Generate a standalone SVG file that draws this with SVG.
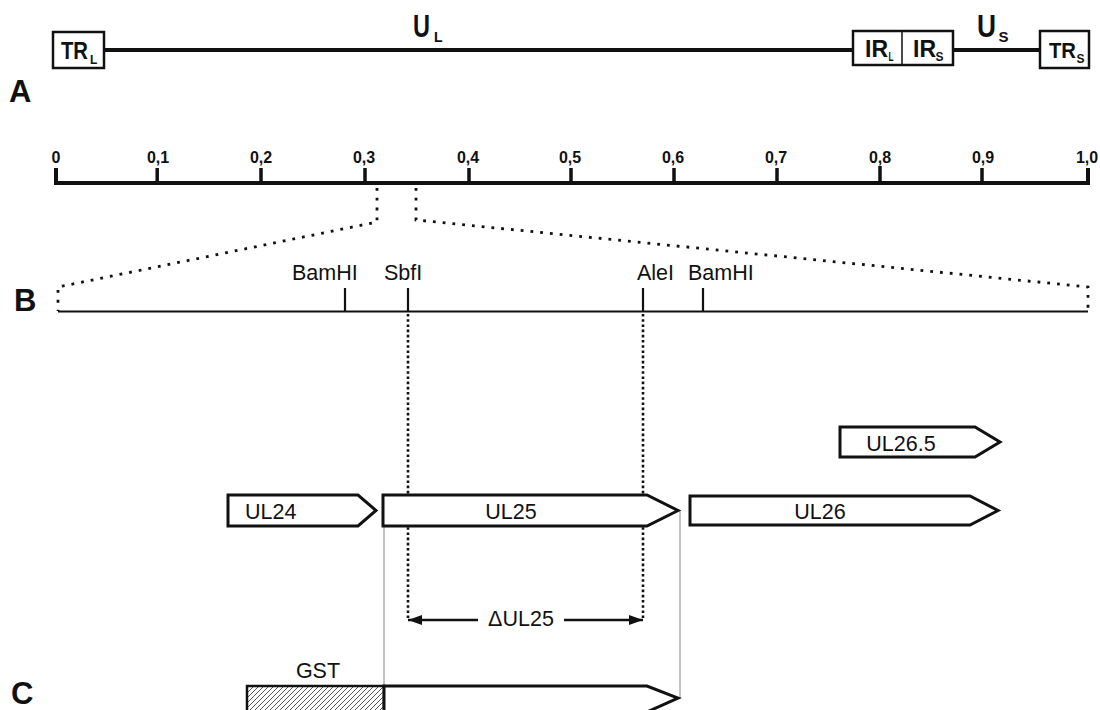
<svg xmlns="http://www.w3.org/2000/svg" width="1100" height="710" viewBox="0 0 1100 710">
<defs>
<style>
.lbl{font-family:"Liberation Sans",Arial,sans-serif;font-weight:bold;fill:#111}
.sec{font-family:"Liberation Sans",Arial,sans-serif;font-weight:bold;font-size:31px;fill:#111}
.txt{font-family:"Liberation Sans",Arial,sans-serif;font-size:21.5px;fill:#111}
.tick{font-family:"Liberation Sans",Arial,sans-serif;font-weight:bold;font-size:16px;fill:#111;text-anchor:middle}
.box{fill:#fff;stroke:#111;stroke-width:2.5}
.gene{fill:#fff;stroke:#111;stroke-width:3;stroke-linejoin:miter}
.thick{stroke:#111;stroke-width:4;fill:none}
.dots{stroke:#111;stroke-width:2.8;fill:none;stroke-dasharray:2.8 7}
.dense{stroke:#111;stroke-width:2.6;fill:none;stroke-dasharray:2.6 2.6}
.thin{stroke:#888;stroke-width:1;fill:none}
</style>
<pattern id="hatch" patternUnits="userSpaceOnUse" width="5" height="5">
<path d="M0,5 L5,0 M-1,1 L1,-1 M4,6 L6,4" stroke="#444" stroke-width="0.9"/>
</pattern>
<marker id="ah" viewBox="0 0 14 10" refX="14" refY="5" markerWidth="14" markerHeight="10" markerUnits="userSpaceOnUse" orient="auto-start-reverse">
<path d="M0,0 L14,5 L0,10 Z" fill="#111"/>
</marker>
</defs>
<rect width="1100" height="710" fill="#fff"/>

<!-- Section labels -->
<text class="sec" x="9" y="102">A</text>
<text class="sec" x="14" y="311">B</text>
<text class="sec" x="11" y="704">C</text>

<!-- Genome map A -->
<g id="genome">
<line class="thick" x1="104" y1="50" x2="853" y2="50"/>
<line class="thick" x1="953" y1="50" x2="1040" y2="50"/>
<text class="lbl" x="413" y="37" font-size="32" textLength="17" lengthAdjust="spacingAndGlyphs">U</text>
<text class="lbl" x="434" y="42" font-size="14">L</text>
<text class="lbl" x="977" y="37" font-size="32" textLength="19" lengthAdjust="spacingAndGlyphs">U</text>
<text class="lbl" x="998.5" y="42" font-size="15">S</text>
</g>
<g id="TRL">
<rect class="box" x="53" y="32" width="51" height="36"/>
<text class="lbl" x="61" y="59" font-size="23" textLength="27" lengthAdjust="spacingAndGlyphs">TR</text>
<text class="lbl" x="90" y="64" font-size="12">L</text>
</g>
<g id="IR">
<rect class="box" x="853" y="31" width="100" height="34"/>
<line x1="902" y1="31" x2="902" y2="65" stroke="#111" stroke-width="1.5"/>
<text class="lbl" x="865" y="57" font-size="23">IR</text>
<text class="lbl" x="888.5" y="61" font-size="12" textLength="5" lengthAdjust="spacingAndGlyphs">L</text>
<text class="lbl" x="913" y="57" font-size="23">IR</text>
<text class="lbl" x="935.5" y="61" font-size="12">S</text>
</g>
<g id="TRS">
<rect class="box" x="1040" y="31" width="49" height="37"/>
<text class="lbl" x="1049" y="58" font-size="22" textLength="27" lengthAdjust="spacingAndGlyphs">TR</text>
<text class="lbl" x="1076.5" y="63" font-size="12">S</text>
</g>

<!-- Scale -->
<g id="scale">
<path class="thick" d="M56,168 L56,183 L1088,183 L1088,168" stroke-width="3.5"/>
<g stroke="#111" stroke-width="3.5">
<line x1="157.2" y1="168" x2="157.2" y2="183"/>
<line x1="261" y1="168" x2="261" y2="183"/>
<line x1="365" y1="168" x2="365" y2="183"/>
<line x1="469" y1="168" x2="469" y2="183"/>
<line x1="571" y1="168" x2="571" y2="183"/>
<line x1="674" y1="168" x2="674" y2="183"/>
<line x1="777" y1="168" x2="777" y2="183"/>
<line x1="880" y1="166" x2="880" y2="183"/>
<line x1="982" y1="168" x2="982" y2="183"/>
</g>
<text class="tick" x="56" y="163">0</text>
<text class="tick" x="158" y="163">0,1</text>
<text class="tick" x="261" y="163">0,2</text>
<text class="tick" x="364" y="163">0,3</text>
<text class="tick" x="468" y="163">0,4</text>
<text class="tick" x="570" y="163">0,5</text>
<text class="tick" x="673" y="163">0,6</text>
<text class="tick" x="776" y="163">0,7</text>
<text class="tick" x="880" y="163">0,8</text>
<text class="tick" x="983" y="163">0,9</text>
<text class="tick" x="1087" y="163">1,0</text>
</g>

<!-- Region B -->
<g id="regionB">
<line x1="58" y1="311.5" x2="1088" y2="311.5" stroke="#111" stroke-width="2.2"/>
<g stroke="#111" stroke-width="2.2">
<line x1="345" y1="288" x2="345" y2="311"/>
<line x1="408" y1="288" x2="408" y2="311"/>
<line x1="643" y1="288" x2="643" y2="311"/>
<line x1="703" y1="288" x2="703" y2="311"/>
</g>
<text class="txt" x="292" y="280">BamHI</text>
<text class="txt" x="384" y="280">SbfI</text>
<text class="txt" x="637" y="280">AleI</text>
<text class="txt" x="688" y="280">BamHI</text>
</g>

<!-- Connectors -->
<g id="connectors">
<path class="dots" d="M377,188 L377,222 L58,287 L58,311"/>
<path class="dots" d="M416,188 L416,220 L1088,287 L1088,311"/>
<line class="dense" x1="408" y1="314" x2="408" y2="618"/>
<line class="dense" x1="643" y1="314" x2="643" y2="618"/>
<line class="thin" x1="384" y1="526" x2="384" y2="686"/>
<line class="thin" x1="680" y1="511" x2="680" y2="698"/>
</g>

<!-- Genes -->
<g id="UL26.5">
<polygon class="gene" points="840,427 975,427 1000,442 975,457 840,457"/>
<text class="txt" x="901" y="451" text-anchor="middle">UL26.5</text>
</g>
<g id="UL24">
<polygon class="gene" points="228,495 358,495 376,510.5 358,526 228,526"/>
<text class="txt" x="245" y="519">UL24</text>
</g>
<g id="UL25">
<polygon class="gene" points="383,495 647,495 678,510.5 647,526 383,526"/>
<text class="txt" x="511" y="519" text-anchor="middle">UL25</text>
</g>
<g id="UL26">
<polygon class="gene" points="690,496 970,496 998,510.5 970,525 690,525"/>
<text class="txt" x="820" y="519" text-anchor="middle">UL26</text>
</g>

<!-- Delta UL25 -->
<g id="deltaUL25">
<line x1="478" y1="620" x2="408" y2="620" stroke="#111" stroke-width="2.5" marker-end="url(#ah)"/>
<line x1="564" y1="620" x2="643" y2="620" stroke="#111" stroke-width="2.5" marker-end="url(#ah)"/>
<text class="txt" x="521" y="626" text-anchor="middle">ΔUL25</text>
</g>

<!-- Construct C -->
<g id="GST-UL25">
<rect x="247" y="686" width="137" height="30" fill="url(#hatch)" stroke="#111" stroke-width="2.5"/>
<polygon class="gene" points="384,686 647,686 678,698 647,712 384,712"/>
<text class="txt" x="318" y="678" text-anchor="middle" font-size="18">GST</text>
</g>
</svg>
